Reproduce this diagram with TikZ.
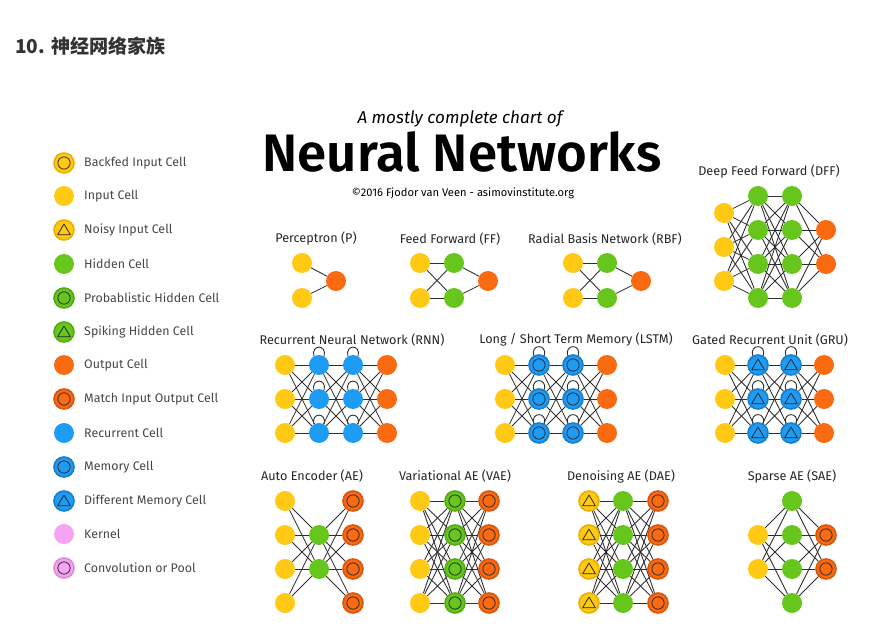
\documentclass[tikz,border=0pt]{standalone}
\usepackage{fontspec}
\setmainfont{Fira Sans}
\newfontfamily\cjkfont{Noto Sans CJK SC}
\newfontfamily\titlefont{Fira Sans SemiBold}
\usepackage{tikz}
\usetikzlibrary{backgrounds}
\definecolor{nnyellow}{HTML}{FFC914}
\definecolor{nnyellowdk}{HTML}{EBB000}
\definecolor{nngreen}{HTML}{66C61C}
\definecolor{nngreendk}{HTML}{52AC14}
\definecolor{nnorange}{HTML}{FA6A10}
\definecolor{nnorangedk}{HTML}{DC560A}
\definecolor{nnblue}{HTML}{1E9BF2}
\definecolor{nnbluedk}{HTML}{1580D2}
\definecolor{nnpink}{HTML}{F5A3F2}
\definecolor{nnpinkdk}{HTML}{E386DF}
\definecolor{nntext}{HTML}{333333}

\begin{document}
\begin{tikzpicture}[
        x=0.03cm, y=-0.03cm,
        every node/.style={align=center, anchor=center},
        cell/.style={circle, minimum size=0.6cm, inner sep=0pt},
        ringmark/.style={path picture={\draw[black!85, line width=0.65pt]
            (path picture bounding box.center) circle (0.185cm);}},
        trimark/.style={path picture={\draw[black!85, line width=0.65pt, line join=round]
            ([yshift=0.18cm]path picture bounding box.center)
            -- ([shift={(-0.19cm,-0.14cm)}]path picture bounding box.center)
            -- ([shift={(0.19cm,-0.14cm)}]path picture bounding box.center) -- cycle;}},
        incell/.style={cell, fill=nnyellow},
        backfed/.style={cell, fill=nnyellow, draw=nnyellowdk, line width=1.4pt, ringmark},
        noisy/.style={cell, fill=nnyellow, draw=nnyellowdk, line width=1.4pt, trimark},
        hidcell/.style={cell, fill=nngreen},
        probcell/.style={cell, fill=nngreen, draw=nngreendk, line width=1.4pt, ringmark},
        spikecell/.style={cell, fill=nngreen, draw=nngreendk, line width=1.4pt, trimark},
        outcell/.style={cell, fill=nnorange},
        matchcell/.style={cell, fill=nnorange, draw=nnorangedk, line width=1.4pt, ringmark},
        reccell/.style={cell, fill=nnblue},
        memcell/.style={cell, fill=nnblue, draw=nnbluedk, line width=1.4pt, ringmark},
        diffmem/.style={cell, fill=nnblue, draw=nnbluedk, line width=1.4pt, trimark},
        kernel/.style={cell, fill=nnpink},
        convcell/.style={cell, fill=nnpink, draw=nnpinkdk, line width=1.4pt, ringmark},
        lgtext/.style={anchor=west, inner sep=0pt, text=nntext!90, font=\fontsize{10.6}{12}\selectfont},
        netlabel/.style={text=black!85, font=\fontsize{10.8}{12}\selectfont},
        link/.style={draw=black!82, line width=0.75pt}
    ]
        \useasboundingbox (0,0) rectangle (871,628);

        % heading
        \node[anchor=west, inner sep=0pt, text=nntext, font=\cjkfont\bfseries\fontsize{16.3}{19}\selectfont]
            (heading) at (15,46) {10. 神经网络家族};
        \node[font=\itshape\fontsize{14.6}{17}\selectfont] (subtitle) at (460,119) {A mostly complete chart of};
        \node[anchor=base, font=\titlefont\fontsize{45}{50}\selectfont] (title) at (462,172) {Neural Networks};
        \node[font=\fontsize{9.5}{11}\selectfont] (credit) at (463,193) {©2016 Fjodor van Veen - asimovinstitute.org};

        % legend
        \node[backfed]   (lg1)  at (64,163) {};  \node[lgtext] at (84,163) {Backfed Input Cell};
        \node[incell]    (lg2)  at (64,196) {};  \node[lgtext] at (84,196) {Input Cell};
        \node[noisy]     (lg3)  at (64,230) {};  \node[lgtext] at (84,230) {Noisy Input Cell};
        \node[hidcell]   (lg4)  at (64,264) {};  \node[lgtext] at (84,264) {Hidden Cell};
        \node[probcell]  (lg5)  at (64,298) {};  \node[lgtext] at (84,298) {Probablistic Hidden Cell};
        \node[spikecell] (lg6)  at (64,332) {};  \node[lgtext] at (84,332) {Spiking Hidden Cell};
        \node[outcell]   (lg7)  at (64,365) {};  \node[lgtext] at (84,365) {Output Cell};
        \node[matchcell] (lg8)  at (64,399) {};  \node[lgtext] at (84,399) {Match Input Output Cell};
        \node[reccell]   (lg9)  at (64,433) {};  \node[lgtext] at (84,433) {Recurrent Cell};
        \node[memcell]   (lg10) at (64,467) {};  \node[lgtext] at (84,467) {Memory Cell};
        \node[diffmem]   (lg11) at (64,501) {};  \node[lgtext] at (84,501) {Different Memory Cell};
        \node[kernel]    (lg12) at (64,534) {};  \node[lgtext] at (84,534) {Kernel};
        \node[convcell]  (lg13) at (64,568) {};  \node[lgtext] at (84,568) {Convolution or Pool};

        % perceptron, feed forward, radial basis
        \node[netlabel] (p-lbl) at (316,239) {Perceptron (P)};
        \node[incell] (p-in-1) at (302,263) {};
        \node[incell] (p-in-2) at (302,298) {};
        \node[outcell] (p-out) at (336,281) {};

        \node[netlabel] (ff-lbl) at (450,239) {Feed Forward (FF)};
        \node[netlabel] (rbf-lbl) at (605,239) {Radial Basis Network (RBF)};
        \foreach \y [count=\i] in {263,298} {
            \node[incell] (ff-in-\i) at (420,\y) {};
            \node[hidcell] (ff-hid-\i) at (454,\y) {};
            \node[incell] (rbf-in-\i) at (573,\y) {};
            \node[hidcell] (rbf-hid-\i) at (607,\y) {};
        }
        \node[outcell] (ff-out) at (488,281) {};
        \node[outcell] (rbf-out) at (641,281) {};

        % deep feed forward
        \node[netlabel] (dff-lbl) at (769,172) {Deep Feed Forward (DFF)};
        \foreach \y [count=\i] in {213,247,281} \node[incell] (dff-in-\i) at (724,\y) {};
        \foreach \y [count=\i] in {196,230,264,298} {
            \node[hidcell] (dff-a-\i) at (758,\y) {};
            \node[hidcell] (dff-b-\i) at (792,\y) {};
        }
        \foreach \y [count=\i] in {230,264} \node[outcell] (dff-out-\i) at (826,\y) {};

        % recurrent row
        \node[netlabel] (rnn-lbl) at (352,340) {Recurrent Neural Network (RNN)};
        \node[netlabel] (lstm-lbl) at (576,340) {Long / Short Term Memory (LSTM)};
        \node[netlabel] (gru-lbl) at (770,340) {Gated Recurrent Unit (GRU)};
        \foreach \y [count=\i] in {365,399,433} {
            \node[incell] (rnn-in-\i) at (285,\y) {};
            \node[reccell] (rnn-a-\i) at (319,\y) {};
            \node[reccell] (rnn-b-\i) at (353,\y) {};
            \node[outcell] (rnn-out-\i) at (387,\y) {};
            \node[incell] (lstm-in-\i) at (505,\y) {};
            \node[memcell] (lstm-a-\i) at (539,\y) {};
            \node[memcell] (lstm-b-\i) at (573,\y) {};
            \node[outcell] (lstm-out-\i) at (607,\y) {};
            \node[incell] (gru-in-\i) at (725,\y) {};
            \node[diffmem] (gru-a-\i) at (758,\y) {};
            \node[diffmem] (gru-b-\i) at (791,\y) {};
            \node[outcell] (gru-out-\i) at (824,\y) {};
        }
        \foreach \n in {rnn,lstm,gru} \foreach \i in {1,2,3} {
            \draw[link] (\n-a-\i.120) .. controls +(-3,-12) and +(3,-12) .. (\n-a-\i.60);
            \draw[link] (\n-b-\i.120) .. controls +(-3,-12) and +(3,-12) .. (\n-b-\i.60);
        }

        % auto encoders
        \node[netlabel] (ae-lbl) at (312,476) {Auto Encoder (AE)};
        \node[netlabel] (vae-lbl) at (455,476) {Variational AE (VAE)};
        \node[netlabel] (dae-lbl) at (621,476) {Denoising AE (DAE)};
        \node[netlabel] (sae-lbl) at (792,476) {Sparse AE (SAE)};
        \foreach \y [count=\i] in {501,535,569,603} {
            \node[incell] (ae-in-\i) at (285,\y) {};
            \node[matchcell] (ae-out-\i) at (353,\y) {};
            \node[incell] (vae-in-\i) at (420,\y) {};
            \node[probcell] (vae-hid-\i) at (455,\y) {};
            \node[matchcell] (vae-out-\i) at (489,\y) {};
            \node[noisy] (dae-in-\i) at (589,\y) {};
            \node[hidcell] (dae-hid-\i) at (623,\y) {};
            \node[matchcell] (dae-out-\i) at (658,\y) {};
            \node[hidcell] (sae-hid-\i) at (792,\y) {};
        }
        \foreach \y [count=\i] in {535,569} {
            \node[hidcell] (ae-hid-\i) at (319,\y) {};
            \node[incell] (sae-in-\i) at (758,\y) {};
            \node[matchcell] (sae-out-\i) at (826,\y) {};
        }

        % connections
        \begin{scope}[on background layer]
            \draw[link] (p-in-1) -- (p-out) (p-in-2) -- (p-out);
            \foreach \i in {1,2} {
                \foreach \j in {1,2}
                    \draw[link] (ff-in-\i) -- (ff-hid-\j) (rbf-in-\i) -- (rbf-hid-\j);
                \draw[link] (ff-hid-\i) -- (ff-out) (rbf-hid-\i) -- (rbf-out);
            }
            \foreach \i in {1,2,3} \foreach \j in {1,...,4}
                \draw[link] (dff-in-\i) -- (dff-a-\j);
            \foreach \i in {1,...,4} {
                \foreach \j in {1,...,4} \draw[link] (dff-a-\i) -- (dff-b-\j);
                \foreach \j in {1,2} \draw[link] (dff-b-\i) -- (dff-out-\j);
            }
            \foreach \n in {rnn,lstm,gru} \foreach \i in {1,2,3} \foreach \j in {1,2,3}
                \draw[link] (\n-in-\i) -- (\n-a-\j) (\n-a-\i) -- (\n-b-\j) (\n-b-\i) -- (\n-out-\j);
            \foreach \i in {1,...,4} \foreach \j in {1,2}
                \draw[link] (ae-in-\i) -- (ae-hid-\j) (ae-hid-\j) -- (ae-out-\i);
            \foreach \n in {vae,dae} \foreach \i in {1,...,4} \foreach \j in {1,...,4}
                \draw[link] (\n-in-\i) -- (\n-hid-\j) (\n-hid-\i) -- (\n-out-\j);
            \foreach \i in {1,2} \foreach \j in {1,...,4}
                \draw[link] (sae-in-\i) -- (sae-hid-\j) (sae-hid-\j) -- (sae-out-\i);
        \end{scope}
    \end{tikzpicture}
\end{document}
